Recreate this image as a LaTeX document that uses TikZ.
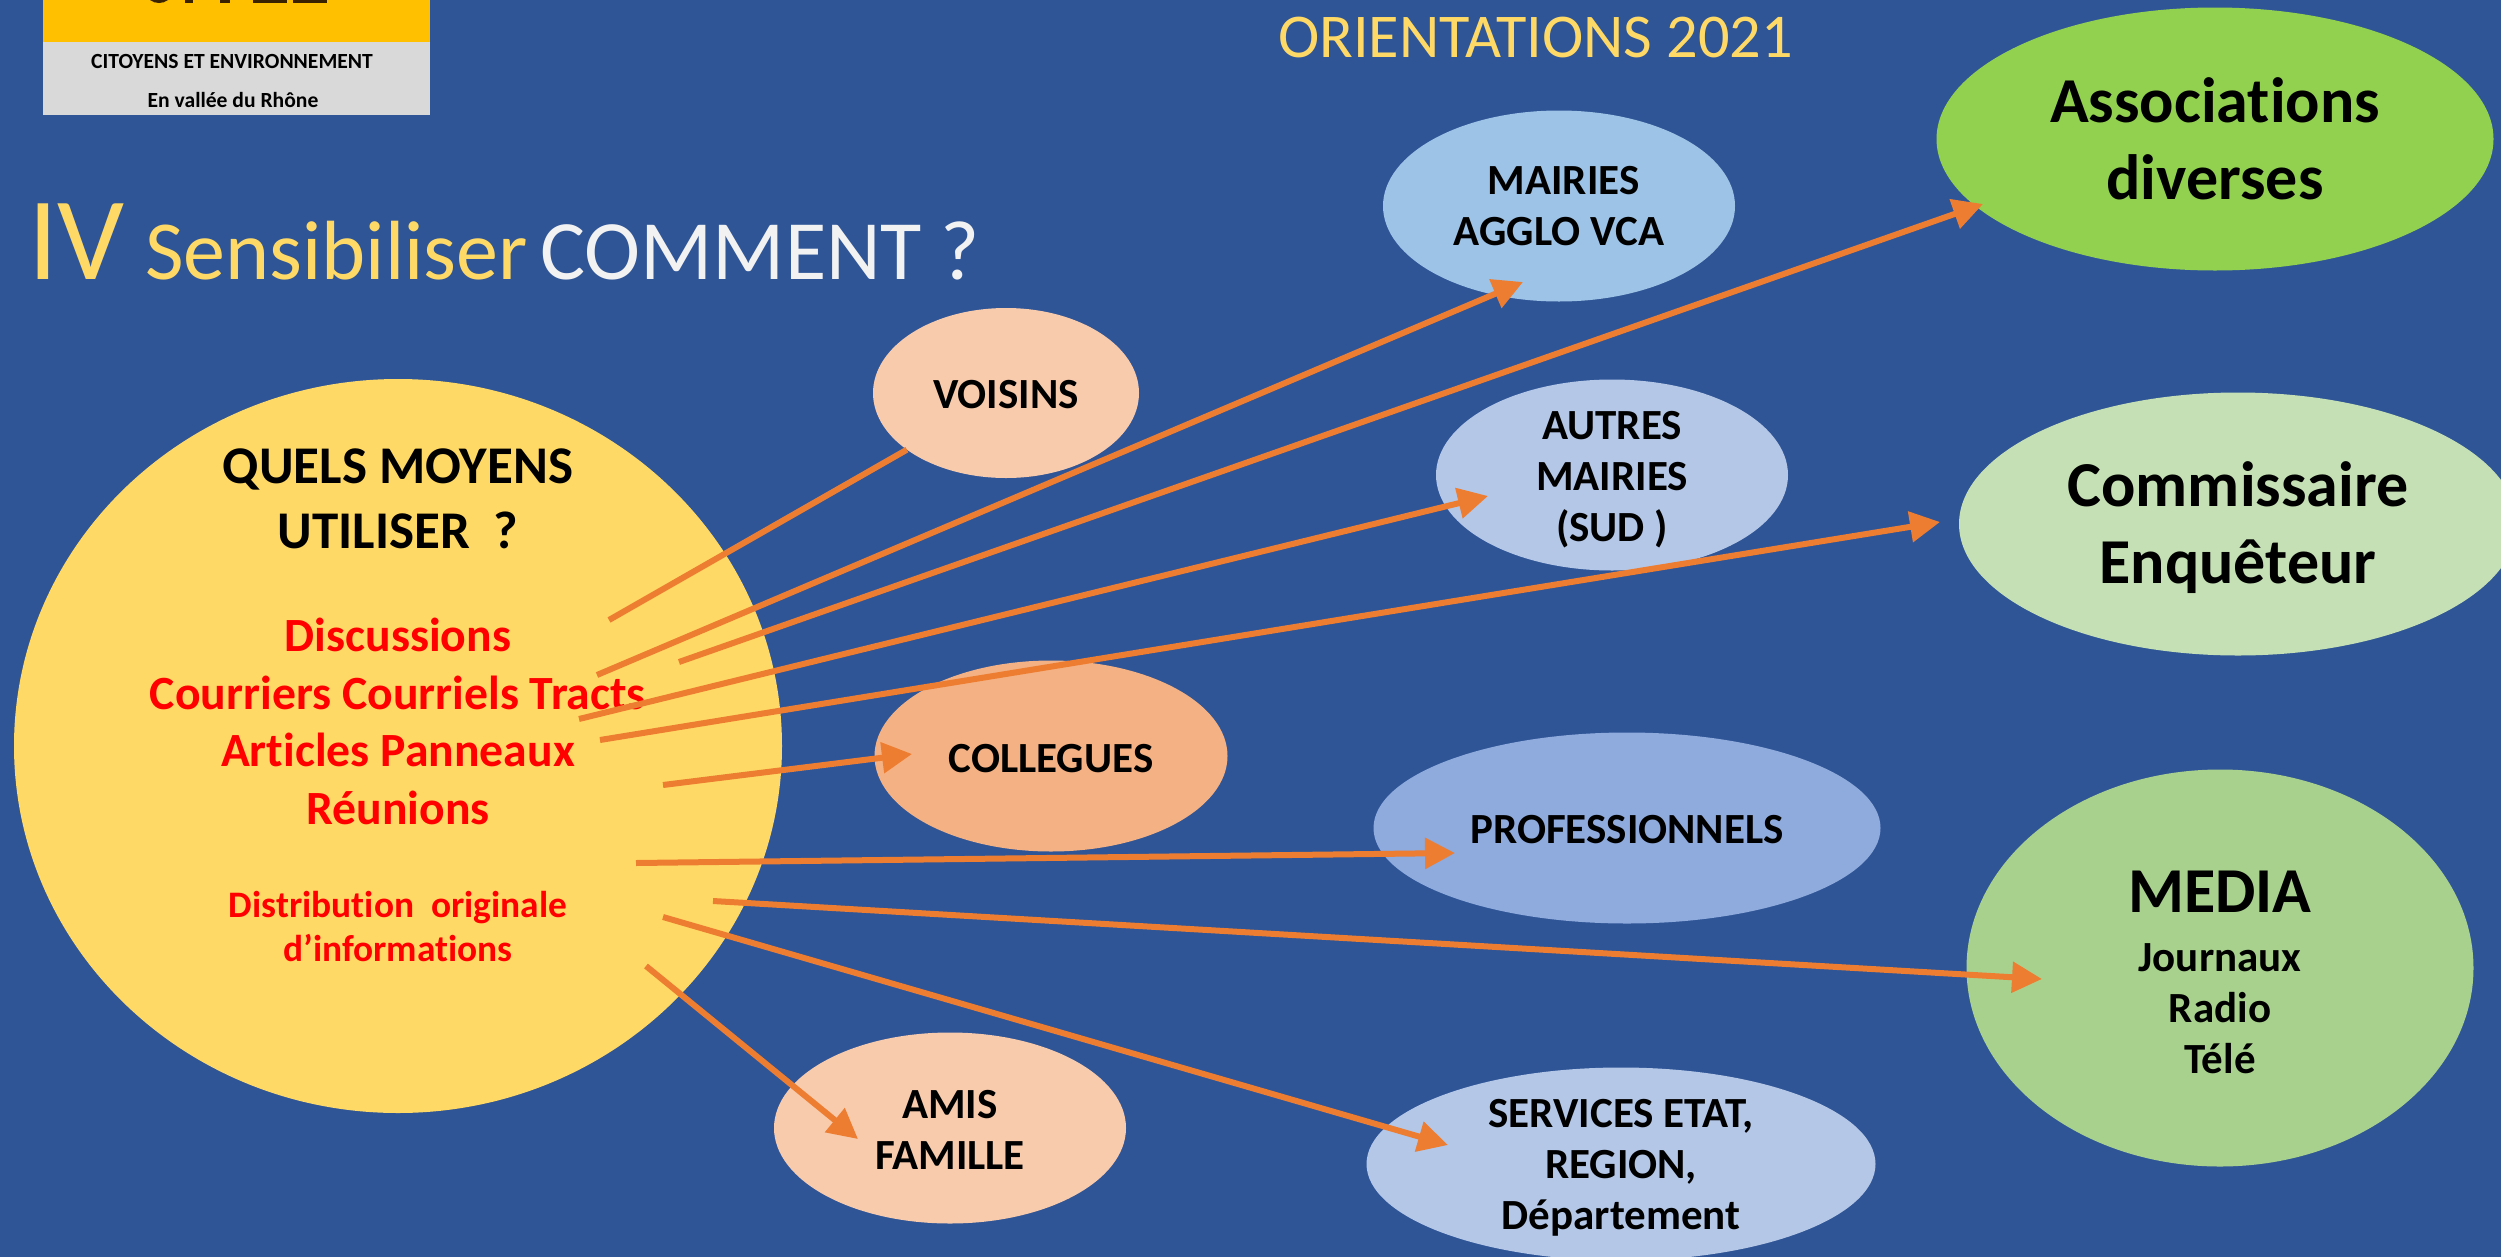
\documentclass[tikz,border=0pt]{standalone}
\usepackage{fontspec}
\setmainfont[Ligatures=NoCommon]{Carlito}
\usetikzlibrary{arrows.meta,shapes.geometric}
\definecolor{bgblue}{HTML}{2F5597}
\definecolor{sun}{HTML}{FFD966}
\definecolor{peach}{HTML}{F8CBAD}
\definecolor{peachdark}{HTML}{F4B183}
\definecolor{skyblue}{HTML}{9DC3E6}
\definecolor{paleblue}{HTML}{B4C7E7}
\definecolor{midblue}{HTML}{8FAADC}
\definecolor{limeg}{HTML}{92D050}
\definecolor{paleg}{HTML}{C5E0B4}
\definecolor{midg}{HTML}{A9D18E}
\definecolor{linkor}{HTML}{ED7D31}
\definecolor{logoy}{HTML}{FFC000}
\definecolor{logog}{HTML}{D9D9D9}
\definecolor{titlew}{HTML}{F2F2F2}
\definecolor{logoink}{HTML}{3A2200}
\newcommand{\fsz}[2]{\fontsize{#1}{#2}\selectfont}
\newcommand{\nudge}[1]{\rule{0pt}{#1pt}}
\tikzset{
  oval/.style={ellipse,inner sep=0pt,outer sep=0pt,inner ysep=-20pt,align=center,text=black,font=\bfseries\fsz{43}{51}},
  bigoval/.style={oval,font=\bfseries\fsz{64}{77}},
  headtxt/.style={anchor=base,inner sep=0pt,text=black,font=\bfseries\fsz{53}{60}},
  redtxt/.style={anchor=base,inner sep=0pt,text=red,font=\bfseries\fsz{47.7}{55}},
  redsmall/.style={anchor=base,inner sep=0pt,text=red,font=\bfseries\fsz{37.4}{44}},
  titletxt/.style={anchor=base west,inner sep=0pt},
  logotxt/.style={anchor=base,inner sep=0pt,text=black,font=\bfseries\fsz{21.6}{25}},
  link/.style={draw=linkor,line width=6pt},
  arrowlink/.style={link,-{Triangle[length=30pt,width=30pt]}},
}
\begin{document}
\begin{tikzpicture}[x=1pt,y=-1pt]
\useasboundingbox (0,0) rectangle (2501,1256);
\fill[bgblue] (-5,-5) rectangle (2510,1265);
% logo
\fill[logoy] (43,-5) rectangle (430,42);
\fill[logog] (43,42) rectangle (430,115);
% cropped foot of the logo lettering
\fill[logoink] (150,-5) -- (150,0) .. controls (155,4) and (163,4) .. (168,0) -- (168,-5) -- cycle;
\fill[logoink] (185,-5) rectangle (193,3);
\fill[logoink] (220,-5) rectangle (230,3);
\fill[logoink] (253,-5) rectangle (287,3);
\fill[logoink] (293,-5) rectangle (327,3);
\node[logotxt] (logoa) at (232,68) {CITOYENS ET ENVIRONNEMENT};
\node[logotxt] (logob) at (233,107) {En vallée du Rhône};
% titles
\node[titletxt,text=sun,font=\fsz{118}{130}] (titleiv) at (28,279) {IV};
\node[titletxt,text=sun,font=\fsz{84}{95}] (titlesens) at (145,279) {Sensibiliser};
\node[titletxt,text=titlew,font=\fsz{84.5}{95}] (titlecomment) at (540,279) {COMMENT ?};
\node[titletxt,text=sun,font=\fsz{62.3}{72}] (orient) at (1278,57) {ORIENTATIONS 2021};
% big circle
\node[ellipse,fill=sun,inner sep=0pt,minimum width=768pt,minimum height=734pt] (moyens) at (398,746) {};
\node[headtxt] (q1) at (398,483) {QUELS MOYENS};
\node[headtxt] (q2) at (398,548) {UTILISER\ \ ?};
\node[redtxt] (r1) at (398,651) {Discussions};
\node[redtxt] (r2) at (398,709) {Courriers Courriels Tracts};
\node[redtxt] (r3) at (398,766) {Articles Panneaux};
\node[redtxt] (r4) at (398,824) {Réunions};
\node[redsmall] (d1) at (398,917) {Distribution\ \ originale};
\node[redsmall] (d2) at (398,961) {d’informations};
% ovals
\node[oval,fill=peach,minimum width=266pt,minimum height=170pt] (voisins) at (1006,393) {\nudge{31}VOISINS};
\node[oval,fill=skyblue,minimum width=352pt,minimum height=191pt] (mairies) at (1559,206) {\hspace*{9pt}\nudge{29}MAIRIES\\AGGLO VCA};
\node[bigoval,fill=limeg,minimum width=557pt,minimum height=263pt] (assoc) at (2215,139) {Associations\\diverses};
\node[oval,fill=paleblue,minimum width=352pt,minimum height=191pt] (autres) at (1612,475) {\nudge{37}AUTRES\\MAIRIES\\(SUD )};
\node[bigoval,fill=paleg,minimum width=558pt,minimum height=263pt] (commissaire) at (2238,524) {\nudge{53}Commissaire\\Enquêteur};
\node[oval,fill=peachdark,minimum width=353pt,minimum height=191pt] (collegues) at (1051,756) {\nudge{33}COLLEGUES};
\node[oval,fill=midblue,minimum width=507pt,minimum height=191pt] (pros) at (1627,828) {\nudge{31}PROFESSIONNELS};
\node[oval,fill=midg,minimum width=507pt,minimum height=397pt] (media) at (2220,968) {\fsz{64}{66}\nudge{51}MEDIA\\[8pt]\fsz{43}{51}Journaux\\Radio\\Télé};
\node[oval,fill=paleblue,minimum width=509pt,minimum height=193pt] (services) at (1621,1164) {\nudge{36}SERVICES ETAT,\\REGION,\\Département};
\node[oval,fill=peach,minimum width=352pt,minimum height=191pt] (amis) at (950,1128) {\nudge{31}AMIS\\FAMILLE};
% connector ends
\coordinate (s1) at (609,620);
\coordinate (s2) at (597,675);  \coordinate (e2) at (1523,282);
\coordinate (s3) at (679,662);  \coordinate (e3) at (1983,204);
\coordinate (s4) at (579,719);  \coordinate (e4) at (1488,496);
\coordinate (s5) at (600,740);  \coordinate (e5) at (1940,522);
\coordinate (s6) at (663,785);  \coordinate (e6) at (912,754);
\coordinate (s7) at (636,863);  \coordinate (e7) at (1455,853);
\coordinate (s8) at (713,901);  \coordinate (e8) at (2042,979);
\coordinate (s9) at (663,917);  \coordinate (e9) at (1448,1145);
\coordinate (s10) at (646,966); \coordinate (e10) at (858,1139);
\draw[link] (s1) -- (voisins);
\draw[arrowlink] (s2) -- (e2);
\draw[arrowlink] (s3) -- (e3);
\draw[arrowlink] (s4) -- (e4);
\draw[arrowlink] (s5) -- (e5);
\draw[arrowlink] (s6) -- (e6);
\draw[arrowlink] (s7) -- (e7);
\draw[arrowlink] (s8) -- (e8);
\draw[arrowlink] (s9) -- (e9);
\draw[arrowlink] (s10) -- (e10);
\end{tikzpicture}
\end{document}
